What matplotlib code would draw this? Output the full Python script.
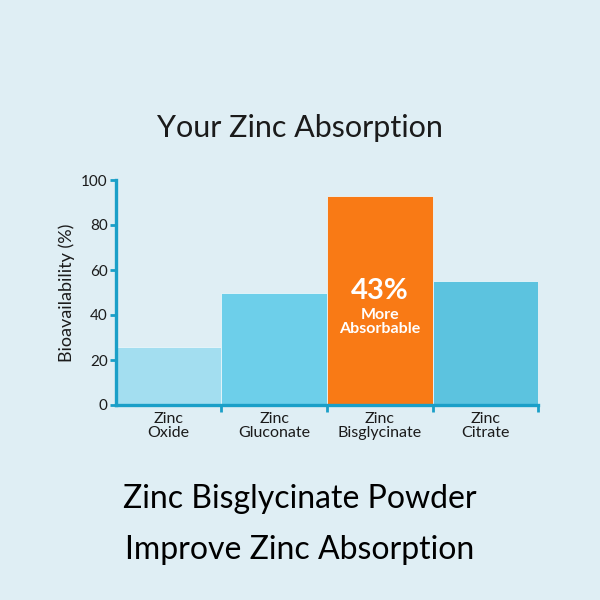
import matplotlib
matplotlib.use("Agg")
import matplotlib.pyplot as plt

CATEGORIES = ["Zinc\nOxide", "Zinc\nGluconate", "Zinc\nBisglycinate", "Zinc\nCitrate"]
VALUES = [26, 50, 93, 55]
BAR_COLORS = ["#a3def0", "#6dcfea", "#f97a15", "#5cc3df"]
Y_TICKS = [0, 20, 40, 60, 80, 100]

BG = "#dfeef4"
AXIS = "#1a9fc8"
TEXT = "#1b1b1b"


def build_plot() -> None:
    plt.rcParams["font.family"] = ["Lato", "DejaVu Sans"]
    fig = plt.figure(figsize=(6, 6), dpi=100, facecolor=BG)
    ax = fig.add_axes([0.1933, 0.325, 0.7034, 0.375])
    ax.set_facecolor(BG)

    positions = list(range(len(CATEGORIES)))
    ax.bar(positions, VALUES, width=1.0, color=BAR_COLORS, edgecolor="#eaf6fa", linewidth=0.6)

    ax.set_xlim(-0.5, len(CATEGORIES) - 0.5)
    ax.set_ylim(0, 100)

    for side in ("top", "right"):
        ax.spines[side].set_visible(False)
    for side in ("left", "bottom"):
        ax.spines[side].set_color(AXIS)
        ax.spines[side].set_linewidth(2.4)

    ax.set_yticks(Y_TICKS)
    ax.set_yticklabels([str(t) for t in Y_TICKS], fontsize=11, color=TEXT)
    ax.tick_params(axis="y", color=AXIS, width=2, length=4, pad=2)

    ax.set_xticks(positions)
    ax.set_xticklabels(CATEGORIES, fontsize=11.5, color=TEXT, linespacing=1.0)
    ax.tick_params(axis="x", which="major", length=0, pad=5)
    ax.set_xticks([p + 0.5 for p in positions], minor=True)
    ax.tick_params(axis="x", which="minor", color=AXIS, width=2, length=5)

    ax.set_ylabel("Bioavailability (%)", fontsize=13, color=TEXT, labelpad=4)

    ax.text(2, 50.5, "43%", ha="center", va="center", fontsize=21,
            fontweight="bold", color="white")
    ax.text(2, 37, "More\nAbsorbable", ha="center", va="center", fontsize=11.5,
            fontweight="bold", color="white", linespacing=1.0)

    fig.text(0.5, 0.787, "Your Zinc Absorption", ha="center", va="center",
             fontsize=22, color=TEXT)
    fig.text(0.5, 0.168, "Zinc Bisglycinate Powder", ha="center", va="center",
             fontsize=23, color="black")
    fig.text(0.5, 0.083, "Improve Zinc Absorption", ha="center", va="center",
             fontsize=23, color="black")

    fig.savefig("out.png", dpi=100, facecolor=BG)
    plt.close(fig)


if __name__ == "__main__":
    build_plot()
